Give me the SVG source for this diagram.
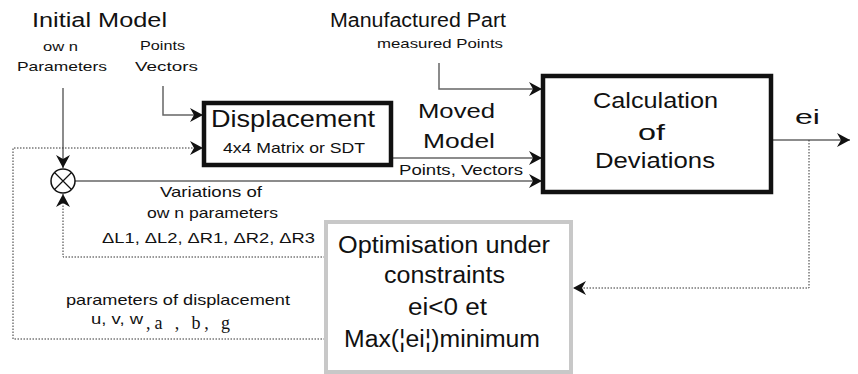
<svg xmlns="http://www.w3.org/2000/svg" width="858" height="374" viewBox="0 0 858 374">
<style>
text{font-family:"Liberation Sans",Arial,sans-serif;fill:#111}
.solid{fill:none;stroke:#666;stroke-width:1.5}
.dot{fill:none;stroke:#333;stroke-width:1;stroke-dasharray:1.5,1.5}
.box{fill:#fff;stroke:#111;stroke-width:4.5}
.gbox{fill:#fff;stroke:#c8c8c8;stroke-width:4}
</style>
<defs>
<marker id="ah" markerUnits="userSpaceOnUse" markerWidth="16" markerHeight="16" refX="13" refY="7" orient="auto">
<path d="M0,0 L13,7 L0,14 L4,7 Z" fill="#111"/>
</marker>
</defs>
<rect width="858" height="374" fill="#fff"/>

<g id="labels-top">
<text x="32" y="27" font-size="20" textLength="135" lengthAdjust="spacingAndGlyphs">Initial Model</text>
<text x="43" y="51" font-size="13" textLength="35" lengthAdjust="spacingAndGlyphs">ow n</text>
<text x="17" y="71" font-size="13" textLength="90" lengthAdjust="spacingAndGlyphs">Parameters</text>
<text x="140" y="50" font-size="13" textLength="45" lengthAdjust="spacingAndGlyphs">Points</text>
<text x="135" y="71" font-size="13" textLength="63" lengthAdjust="spacingAndGlyphs">Vectors</text>
<text x="330" y="27" font-size="20" textLength="176" lengthAdjust="spacingAndGlyphs">Manufactured Part</text>
<text x="377" y="48" font-size="13" textLength="126" lengthAdjust="spacingAndGlyphs">measured Points</text>
<text x="418" y="118" font-size="21" textLength="77" lengthAdjust="spacingAndGlyphs">Moved</text>
<text x="423" y="148" font-size="21" textLength="72" lengthAdjust="spacingAndGlyphs">Model</text>
<text x="399" y="175" font-size="14" textLength="124" lengthAdjust="spacingAndGlyphs">Points, Vectors</text>
<text x="795" y="124" font-size="20" textLength="25" lengthAdjust="spacingAndGlyphs">ei</text>
<text x="160" y="197" font-size="15" textLength="102" lengthAdjust="spacingAndGlyphs">Variations of</text>
<text x="147" y="218" font-size="15" textLength="131" lengthAdjust="spacingAndGlyphs">ow n parameters</text>
<text x="102" y="243" font-size="15" textLength="213" lengthAdjust="spacingAndGlyphs">ΔL1, ΔL2, ΔR1, ΔR2, ΔR3</text>
<text x="66" y="305" font-size="15" textLength="224" lengthAdjust="spacingAndGlyphs">parameters of displacement</text>
<text x="91" y="324" font-size="15" textLength="52" lengthAdjust="spacingAndGlyphs">u, v, w</text>
<text x="146" y="329" font-size="18" textLength="84" lengthAdjust="spacing" style="font-family:'Liberation Serif',serif">,a , b, g</text>
</g>

<g id="connectors">
<path class="solid" d="M63,88 V168" marker-end="url(#ah)"/>
<path class="solid" d="M163,86 V115 H203" marker-end="url(#ah)"/>
<path class="dot" d="M325,339 H13 V148 H203" marker-end="url(#ah)"/>
<path class="dot" d="M325,257 H63 V194" marker-end="url(#ah)"/>
<path class="solid" d="M75,181 H542" marker-end="url(#ah)"/>
<path class="solid" d="M392,158 H542" marker-end="url(#ah)"/>
<path class="solid" d="M439,63 V89 H542" marker-end="url(#ah)"/>
<path class="solid" d="M772,140 H850" marker-end="url(#ah)"/>
<path class="dot" d="M809,140 V288 H573" marker-end="url(#ah)"/>
</g>

<g id="sum">
<circle cx="63" cy="181" r="12" fill="#fff" stroke="#111" stroke-width="1.5"/>
<path d="M54.5,172.5 L71.5,189.5 M71.5,172.5 L54.5,189.5" stroke="#111" stroke-width="1.2"/>
</g>

<g id="displacement">
<rect class="box" x="204" y="103" width="187" height="62"/>
<text x="211" y="127" font-size="24" textLength="164" lengthAdjust="spacingAndGlyphs">Displacement</text>
<text x="223" y="153" font-size="15" textLength="142" lengthAdjust="spacingAndGlyphs">4x4 Matrix or SDT</text>
</g>

<g id="calculation">
<rect class="box" x="543" y="76" width="228" height="116"/>
<text x="593" y="108" font-size="22" textLength="125" lengthAdjust="spacingAndGlyphs">Calculation</text>
<text x="638" y="140" font-size="22" textLength="27" lengthAdjust="spacingAndGlyphs">of</text>
<text x="595" y="168" font-size="22" textLength="120" lengthAdjust="spacingAndGlyphs">Deviations</text>
</g>

<g id="optimisation">
<rect class="gbox" x="326" y="222" width="245" height="150"/>
<text x="338" y="253" font-size="23" textLength="212" lengthAdjust="spacingAndGlyphs">Optimisation under</text>
<text x="384" y="283" font-size="23" textLength="121" lengthAdjust="spacingAndGlyphs">constraints</text>
<text x="408" y="315" font-size="23" textLength="79" lengthAdjust="spacingAndGlyphs">ei&lt;0 et</text>
<text x="344" y="347" font-size="23" textLength="196" lengthAdjust="spacingAndGlyphs">Max(¦ei¦)minimum</text>
</g>
</svg>
